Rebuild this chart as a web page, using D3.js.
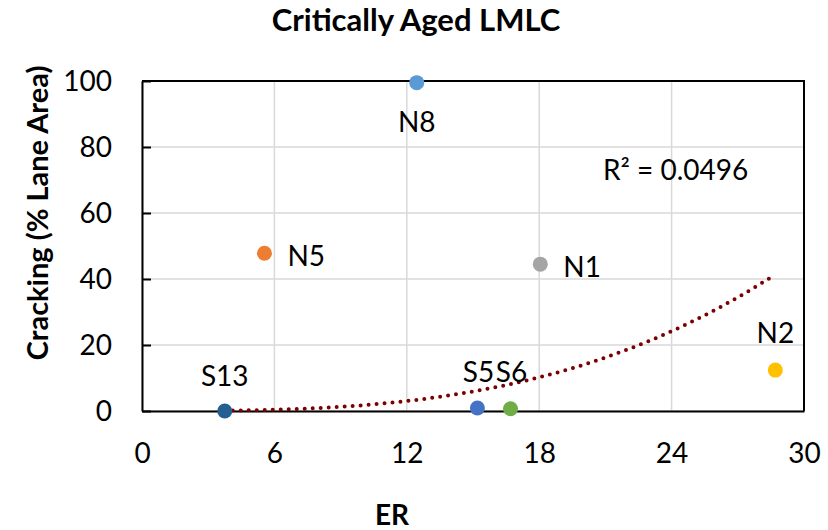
<!DOCTYPE html>
<html>
<head>
<meta charset="utf-8">
<script src="https://cdn.jsdelivr.net/npm/d3@7"></script>
<style>
  body { margin: 0; background: #fff; }
  text { font-family: Lato, "Liberation Sans", sans-serif; fill: #000; }
</style>
</head>
<body>
<svg id="chart" width="828" height="530"></svg>
<script>
// values
const sites = ["N8", "N5", "N1", "N2", "S5", "S6", "S13"];
const erValues = [12.45, 5.55, 18.05, 28.7, 15.2, 16.7, 3.75];
const crackValues = [99.5, 47.8, 44.5, 12.4, 0.9, 0.7, 0];
const siteColors = ["#5B9BD5", "#ED7D31", "#A5A5A5", "#FFC000", "#4472C4", "#70AD47", "#255E91"];
const xTicks = [0, 6, 12, 18, 24, 30];
const yTicks = [0, 20, 40, 60, 80, 100];
// power trendline y = a * x^b (Excel fit)
const trendA = 0.00175;
const trendB = 3;
const rSquared = "0.0496";

const svg = d3.select("#chart");

const x = d3.scaleLinear().domain([0, 30]).range([142, 804]);
const y = d3.scaleLinear().domain([0, 100]).range([411, 81]);

// title
svg.append("text")
  .attr("x", 416).attr("y", 31)
  .attr("text-anchor", "middle")
  .attr("font-size", "31px").attr("font-weight", "bold")
  .text("Critically Aged LMLC");

// grid lines
svg.append("g")
  .selectAll("line")
  .data(xTicks)
  .join("line")
  .attr("x1", d => x(d)).attr("x2", d => x(d))
  .attr("y1", y(0)).attr("y2", y(100))
  .attr("stroke", "#D9D9D9").attr("stroke-width", 1.5);

svg.append("g")
  .selectAll("line")
  .data(yTicks)
  .join("line")
  .attr("x1", x(0)).attr("x2", x(30))
  .attr("y1", d => y(d)).attr("y2", d => y(d))
  .attr("stroke", "#D9D9D9").attr("stroke-width", 1.5);

// axes
const yAxis = svg.append("g")
  .attr("transform", `translate(${x(0)},0)`)
  .call(d3.axisLeft(y).tickValues(yTicks).tickSizeInner(-9).tickSizeOuter(0).tickPadding(30));
yAxis.select(".domain").attr("stroke", "#000").attr("stroke-width", 2);
yAxis.selectAll(".tick line").attr("stroke", "#000").attr("stroke-width", 2);
yAxis.selectAll("text").attr("font-size", "28px").attr("dy", "0.35em");

const xAxis = svg.append("g")
  .attr("transform", `translate(0,${y(0)})`)
  .call(d3.axisBottom(x).tickValues(xTicks).tickSize(0).tickPadding(0));
xAxis.select(".domain").attr("stroke", "#000").attr("stroke-width", 2);
xAxis.selectAll("text").attr("font-size", "28px").attr("y", 42).attr("dy", "0.35em");

// top/right border
svg.append("path")
  .attr("d", `M${x(0)},${y(100)}H${x(30)}V${y(0)}`)
  .attr("fill", "none").attr("stroke", "#000").attr("stroke-width", 2);

// axis titles
svg.append("text")
  .attr("transform", "translate(48,213) rotate(-90)")
  .attr("text-anchor", "middle")
  .attr("font-size", "29px").attr("font-weight", "bold")
  .text("Cracking (% Lane Area)");

svg.append("text")
  .attr("x", 392).attr("y", 525)
  .attr("text-anchor", "middle")
  .attr("font-size", "28px").attr("font-weight", "bold")
  .text("ER");

// trendline
const xMin = d3.min(erValues), xMax = d3.max(erValues);
const trendPts = d3.range(xMin, xMax + 0.001, (xMax - xMin) / 100).map(v => [v, trendA * Math.pow(v, trendB)]);
svg.append("path")
  .datum(trendPts)
  .attr("d", d3.line().x(d => x(d[0])).y(d => y(d[1])))
  .attr("fill", "none")
  .attr("stroke", "#7B0000")
  .attr("stroke-width", 4)
  .attr("stroke-linecap", "round")
  .attr("stroke-dasharray", "0 8");

// points
const pts = sites.map((s, i) => ({ name: s, er: erValues[i], crack: crackValues[i], color: siteColors[i] }));
svg.append("g")
  .selectAll("circle")
  .data(pts)
  .join("circle")
  .attr("cx", d => x(d.er)).attr("cy", d => y(d.crack))
  .attr("r", 7.5)
  .attr("fill", d => d.color);

// data labels (offsets relative to point)
const labelPos = {
  N8: [0, 40, "middle"],
  N5: [23, 3, "start"],
  N1: [23, 3, "start"],
  N2: [0, -37, "middle"],
  S5: [1, -36, "middle"],
  S6: [1, -36, "middle"],
  S13: [0, -35, "middle"]
};
svg.append("g")
  .selectAll("text")
  .data(pts)
  .join("text")
  .attr("x", d => x(d.er) + labelPos[d.name][0])
  .attr("y", d => y(d.crack) + labelPos[d.name][1])
  .attr("text-anchor", d => labelPos[d.name][2])
  .attr("dy", "0.35em")
  .attr("font-size", "28px")
  .text(d => d.name);

// R² label
svg.append("text")
  .attr("x", 603).attr("y", 170)
  .attr("dy", "0.35em")
  .attr("font-size", "28px")
  .text("R² = " + rSquared);
</script>
</body>
</html>
